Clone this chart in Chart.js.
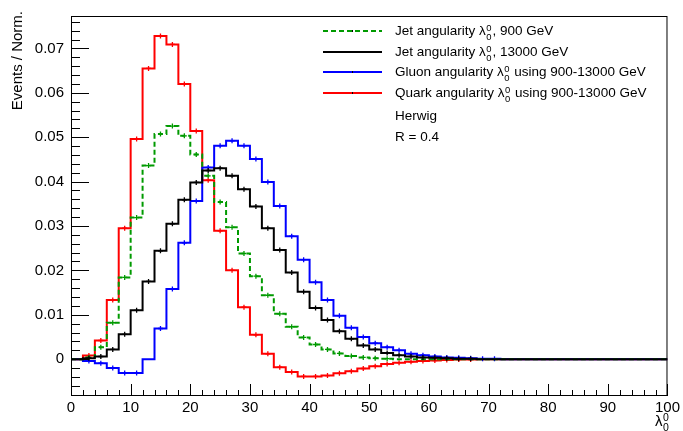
<!DOCTYPE html>
<html>
<head>
<meta charset="utf-8">
<script src="https://cdn.jsdelivr.net/npm/chart.js@4/dist/chart.umd.min.js"></script>
<style>
  html, body { margin: 0; padding: 0; background: #fff; }
  #wrap { position: relative; width: 683px; height: 431px; overflow: hidden;
          font-family: "Liberation Sans", Arial, Helvetica, sans-serif; color: #000; }
  #chart { position: absolute; left: 0; top: 0; }
  .ytitle { position: absolute; left: -183px; top: 2px; width: 200px; height: 18px;
            line-height: 18px; font-size: 15px; text-align: right; white-space: nowrap;
            transform-origin: 100% 50%; transform: rotate(-90deg); }
  .xtitle { position: absolute; left: 655px; top: 413px; font-size: 15px; line-height: 15px; }
  .lam { white-space: nowrap; }
  .idx { display: inline-block; position: relative; width: 0.5em; height: 1em; vertical-align: top; }
  .idx .sp { position: absolute; left: 0.04em; top: -0.32em; font-size: 0.7em; }
  .idx .sb { position: absolute; left: 0.04em; top: 0.62em; font-size: 0.7em; }
  .leg { position: absolute; left: 323px; height: 20px; line-height: 20px; font-size: 13.5px; white-space: nowrap; }
  .leg svg { position: absolute; left: 0; top: 0; }
  .leg span.t { position: absolute; left: 72px; top: 0; }
</style>
</head>
<body>
<div id="wrap">
  <canvas id="chart" width="683" height="431"></canvas>
  <div class="ytitle">Events / Norm.</div>
  <div class="xtitle" id="xtitle"></div>
  <div id="legend"></div>
</div>
<script>
// histogram contents, bins of width 2 from 0 to 100
const binLow = 0;
const binWidth = 2;
const jet900 = [0, 0.0004, 0.0027, 0.0082, 0.0184, 0.0319, 0.0436, 0.0507, 0.0525, 0.0503,
  0.0461, 0.0413, 0.0354, 0.0297, 0.0238, 0.0187, 0.0144, 0.0102, 0.0073, 0.0049,
  0.0033, 0.0022, 0.0013, 0.0007, 0.0004, 0.0002, 0.0001, 0, 0, 0,
  0, 0, 0, 0, 0, 0, 0, 0, 0, 0, 0, 0, 0, 0, 0, 0, 0, 0, 0, 0];
const jet13000 = [0, 0.0002, 0.0006, 0.0022, 0.0056, 0.0110, 0.0175, 0.0244, 0.0305, 0.0359,
  0.0398, 0.0425, 0.0430, 0.0413, 0.0383, 0.0344, 0.0295, 0.0246, 0.0195, 0.0152,
  0.0115, 0.0088, 0.0063, 0.0046, 0.0031, 0.0022, 0.0014, 0.0009, 0.0006, 0.0004,
  0.0003, 0.0002, 0.0001, 0.0001, 0, 0, 0, 0, 0, 0, 0, 0, 0, 0, 0, 0, 0, 0, 0, 0];
const gluon = [0, -0.0004, -0.0009, -0.0020, -0.0031, -0.0031, 0.0000, 0.0069, 0.0158, 0.0262,
  0.0356, 0.0432, 0.0481, 0.0492, 0.0481, 0.0451, 0.0399, 0.0345, 0.0277, 0.0224,
  0.0173, 0.0133, 0.0098, 0.0071, 0.0050, 0.0036, 0.0027, 0.0020, 0.0012, 0.0009,
  0.0006, 0.0004, 0.0003, 0.0002, 0.0001, 0.0001, 0, 0, 0, 0, 0, 0, 0, 0, 0, 0, 0, 0, 0, 0];
const quark = [0, 0.0008, 0.0042, 0.0133, 0.0295, 0.0496, 0.0655, 0.0728, 0.0709, 0.0620,
  0.0514, 0.0403, 0.0289, 0.0200, 0.0117, 0.0055, 0.0012, -0.0018, -0.0029, -0.0039,
  -0.0039, -0.0037, -0.0032, -0.0027, -0.0021, -0.0016, -0.0011, -0.0008, -0.0006, -0.0004,
  -0.0003, -0.0002, -0.0001, -0.0001, 0, 0, 0, 0, 0, 0, 0, 0, 0, 0, 0, 0, 0, 0, 0, 0];

const xTickValues = [0, 10, 20, 30, 40, 50, 60, 70, 80, 90, 100];
const yTickValues = [0, 0.01, 0.02, 0.03, 0.04, 0.05, 0.06, 0.07];
const xRange = [0, 100];
const yRange = [-0.0083, 0.0773];

const FONT = '"Liberation Sans", Arial, Helvetica, sans-serif';
const lam = `<span class="lam">λ<span class="idx"><span class="sp">0</span><span class="sb">0</span></span></span>`;

const series = [
  { name: `Jet angularity ${lam}, 900 GeV`, data: jet900, color: "#009a00", dash: [5, 3], order: 2 },
  { name: `Jet angularity ${lam}, 13000 GeV`, data: jet13000, color: "#000000", dash: [], order: 1 },
  { name: `Gluon angularity ${lam} using 900-13000 GeV`, data: gluon, color: "#0000ff", dash: [], order: 3 },
  { name: `Quark angularity ${lam} using 900-13000 GeV`, data: quark, color: "#ff0000", dash: [], order: 4 }
];
const extraLines = ["Herwig", "R = 0.4"];

function stepPoints(vals) {
  const pts = vals.map((v, i) => ({ x: binLow + i * binWidth, y: v }));
  pts.push({ x: binLow + vals.length * binWidth, y: vals[vals.length - 1] });
  return pts;
}

function centerPoints(vals) {
  return vals.map((v, i) => ({ x: binLow + (i + 0.5) * binWidth, y: v })).filter(p => p.y !== 0);
}

const datasets = [];
series.forEach(s => {
  datasets.push({
    type: "line", data: stepPoints(s.data), stepped: "before",
    borderColor: s.color, borderWidth: 2, borderDash: s.dash,
    pointRadius: 0, fill: false, order: s.order
  });
  datasets.push({
    type: "scatter", data: centerPoints(s.data), showLine: false,
    pointStyle: "cross", pointRadius: 2.5, borderWidth: 1.3,
    borderColor: s.color, backgroundColor: s.color, order: s.order
  });
});

// ROOT style frame with inward ticks
const frameTicks = {
  id: "frameTicks",
  afterDraw(chart) {
    const { ctx, chartArea: a, scales: { x, y } } = chart;
    ctx.save();
    ctx.strokeStyle = "#000";
    ctx.lineWidth = 1;
    ctx.strokeRect(a.left + 0.5, a.top + 0.5, a.right - a.left - 1, a.bottom - a.top - 1);
    ctx.beginPath();
    for (let v = xRange[0]; v <= xRange[1] + 1e-9; v += 2) {
      const px = Math.round(x.getPixelForValue(v)) + 0.5;
      const len = (Math.round(v) % 10 === 0) ? 12 : 6;
      ctx.moveTo(px, a.bottom);
      ctx.lineTo(px, a.bottom - len);
    }
    for (let k = -4; k <= 38; k++) {
      const v = k * 0.002;
      if (v < yRange[0] || v > yRange[1]) continue;
      const py = Math.round(y.getPixelForValue(v)) + 0.5;
      const len = (k % 5 === 0) ? 18 : 9;
      ctx.moveTo(a.left, py);
      ctx.lineTo(a.left + len, py);
    }
    ctx.stroke();
    ctx.restore();
  }
};

new Chart(document.getElementById("chart"), {
  data: { datasets },
  options: {
    responsive: false,
    animation: false,
    events: [],
    layout: { padding: { top: 5, right: 14, left: 0, bottom: 0 } },
    plugins: { legend: { display: false }, tooltip: { enabled: false } },
    scales: {
      x: {
        type: "linear", min: xRange[0], max: xRange[1],
        afterBuildTicks: s => { s.ticks = xTickValues.map(v => ({ value: v })); },
        afterFit: s => { s.height = 35; },
        grid: { display: false, drawTicks: false },
        border: { display: false },
        ticks: { color: "#000", font: { family: FONT, size: 15 }, padding: 3,
                 maxRotation: 0, autoSkip: false, callback: v => String(v) }
      },
      y: {
        type: "linear", min: yRange[0], max: yRange[1],
        afterBuildTicks: s => { s.ticks = yTickValues.map(v => ({ value: v })); },
        afterFit: s => { s.width = 71; },
        grid: { display: false, drawTicks: false },
        border: { display: false },
        ticks: { color: "#000", font: { family: FONT, size: 15 }, padding: 7, autoSkip: false,
                 callback: v => (Math.abs(v) < 1e-9 ? "0" : parseFloat(v.toFixed(3)).toFixed(2)) }
      }
    }
  },
  plugins: [frameTicks]
});

document.getElementById("xtitle").innerHTML = lam;

const legend = document.getElementById("legend");
const rowY = [31, 51.7, 72.3, 93.3, 115.5, 136.5];
series.forEach((s, i) => {
  const row = document.createElement("div");
  row.className = "leg";
  row.style.top = (rowY[i] - 10) + "px";
  const dash = s.dash.length ? `stroke-dasharray="${s.dash.join(" ")}"` : "";
  row.innerHTML = `<svg width="60" height="20"><line x1="0" y1="10" x2="59" y2="10" stroke="${s.color}" stroke-width="2" ${dash}/>` +
    `<line x1="29.5" y1="9" x2="29.5" y2="11" stroke="#000" stroke-width="1"/></svg>` +
    `<span class="t">${s.name}</span>`;
  legend.appendChild(row);
});
extraLines.forEach((txt, j) => {
  const row = document.createElement("div");
  row.className = "leg";
  row.style.top = (rowY[series.length + j] - 10) + "px";
  row.innerHTML = `<span class="t">${txt}</span>`;
  legend.appendChild(row);
});
</script>
</body>
</html>
